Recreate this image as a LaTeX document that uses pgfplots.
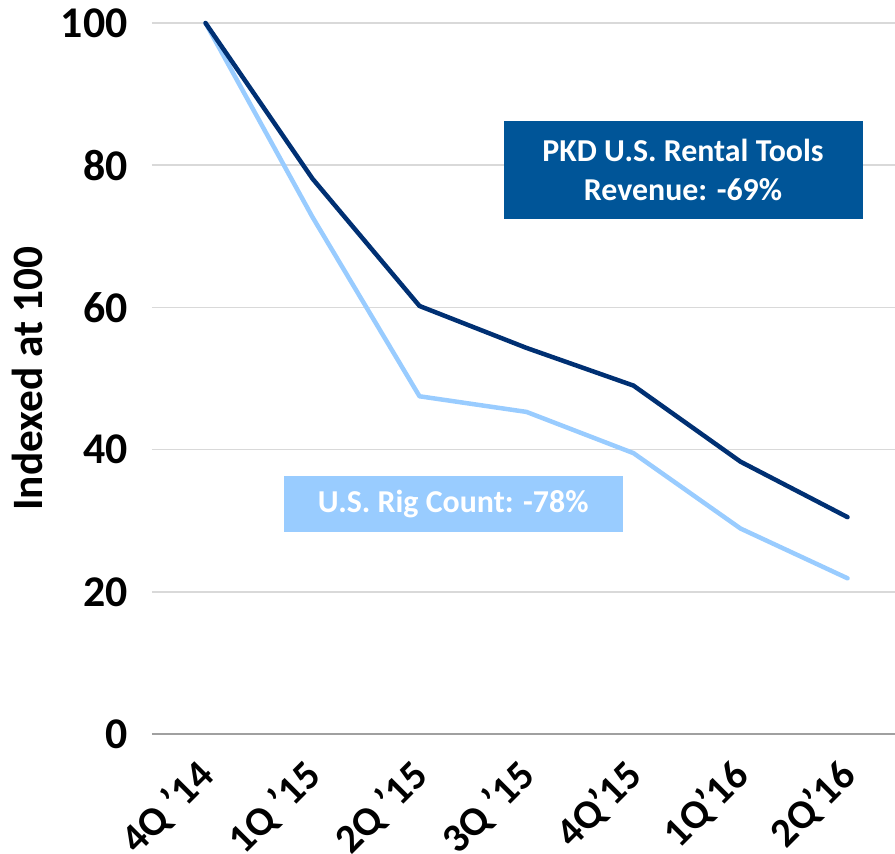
\documentclass[border=0pt]{standalone}
\usepackage{fontspec}
\setmainfont{Carlito}
\usepackage{pgfplots}
\pgfplotsset{compat=1.18}
\definecolor{darkline}{RGB}{0,48,115}
\definecolor{lightline}{RGB}{153,204,255}
\definecolor{boxdark}{RGB}{0,85,152}
\definecolor{gridgray}{RGB}{217,217,217}
\definecolor{axisgray}{RGB}{160,160,160}
\newcommand{\tickfont}{\fontsize{44}{50}\selectfont\bfseries}
\newcommand{\xtickfont}{\fontsize{41}{47}\selectfont\bfseries}
\begin{document}
\begin{tikzpicture}
\begin{axis}[
  scale only axis,
  width=749bp, height=711bp,
  xmin=-0.5, xmax=6.5,
  ymin=0, ymax=100,
  axis x line*=bottom,
  axis y line*=left,
  x axis line style={axisgray, line width=1.5bp, -},
  y axis line style={draw=none},
  ytick={0,20,40,60,80,100},
  ymajorgrids,
  grid style={gridgray, line width=1.5bp},
  major tick length=0pt,
  ytick style={draw=none},
  xtick={0,1,2,3,4,5,6},
  xticklabels={4Q '14,1Q '15,2Q '15,3Q '15,4Q'15,1Q'16,2Q'16},
  xtick style={draw=none},
  minor xtick={-0.5,0.5,...,6.5},
  minor tick length=12bp,
  tick align=outside,
  minor x tick style={axisgray, line width=1.5bp},
  xticklabel style={font=\xtickfont, xshift=4bp, yshift=-33bp, rotate=45, anchor=east},
  yticklabel style={font=\tickfont, xshift=-21bp},
  /pgf/number format/assume math mode=true,
  ylabel={Indexed at 100},
  ylabel style={font=\fontsize{43.5}{50}\selectfont\bfseries, at={(axis description cs:0,0.5)}, anchor=center, rotate=0, yshift=125bp},
  clip=false,
]
\addplot[color=lightline, line width=4.5bp, line join=round, line cap=round] coordinates {
 (0,100) (1,72.7) (2,47.5) (3,45.3) (4,39.5) (5,28.9) (6,21.9)};
\addplot[color=darkline, line width=4.5bp, line join=round, line cap=round] coordinates {
 (0,100) (1,78.1) (2,60.2) (3,54.3) (4,49.0) (5,38.3) (6,30.5)};
\node[fill=boxdark, text=white, minimum width=359bp, minimum height=98bp, inner sep=0pt, align=center,
  font=\fontsize{32}{39}\selectfont\bfseries] at (axis cs:4.463,79.3) {PKD U.S. Rental Tools\\Revenue: -69\%};
\node[fill=lightline, text=white, minimum width=339bp, minimum height=56bp, inner sep=0pt, align=center,
  font=\fontsize{32}{39}\selectfont\bfseries] at (axis cs:2.315,32.3) {U.S. Rig Count: -78\%};
\end{axis}
\pgfresetboundingbox
\path[use as bounding box] (-152bp,-120bp) rectangle (743bp,734bp);
\end{tikzpicture}
\end{document}
